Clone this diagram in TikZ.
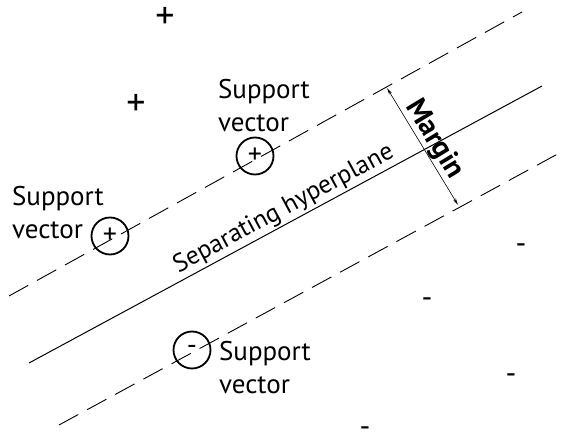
\documentclass[tikz,border=0pt]{standalone}
\usepackage{fontspec}
\setmainfont{PT Sans}
\usetikzlibrary{arrows.meta}

\tikzset{
  margin line/.style={dash pattern=on 22pt off 10pt, line width=0.9pt},
  sv/.style={draw,circle,line width=1.8pt,minimum size=37pt,inner sep=0pt,font=\fontsize{28}{28}\selectfont},
  svlabel/.style={align=left,inner sep=0pt,font=\fontsize{27}{33}\selectfont},
  pt/.style={inner sep=0pt,font=\fontsize{38}{38}\selectfont},
  nt/.style={inner sep=0pt,font=\fontsize{30}{30}\selectfont}
}

\begin{document}
\begin{tikzpicture}[x=1pt,y=-1pt]
\useasboundingbox (0,0) rectangle (565,443);

\coordinate (ta) at (9,296);
\coordinate (tb) at (522,12);
\coordinate (sa) at (29,363);
\coordinate (sb) at (542,86);
\coordinate (la) at (59,425);
\coordinate (lb) at (565,150);
\coordinate (m1) at (387,88);
\coordinate (m2) at (458,205);

\draw[margin line] (ta) -- (tb);
\draw[margin line] (la) -- (lb);
\draw[line width=1pt] (sa) -- (sb) node[pos=0.51,sloped,above,inner sep=2pt,font=\fontsize{25.5}{25.5}\selectfont] {Separating hyperplane};

\draw[<->,>={Stealth[length=7pt,width=3pt]},line width=0.6pt] (m1) -- (m2)
  node[midway,sloped,above,inner sep=0pt,font=\fontsize{29}{29}\selectfont\bfseries] {Margin};

% support vectors
\node[sv] (sv1) at (255,156) {+};
\node[sv] (sv2) at (110,236) {+};
\node[sv] (sv3) at (192,350) {-};

\node[svlabel] (l1) at (264,106) {Support\\vector};
\node[svlabel] (l2) at (58,213) {Support\\vector};
\node[svlabel] (l3) at (265,368) {Support\\vector};

% other points
\node[pt] (p1) at (165,18) {+};
\node[pt] (p2) at (136,105) {+};
\node[nt] (n1) at (521,249) {-};
\node[nt] (n2) at (427,303) {-};
\node[nt] (n3) at (511,379) {-};
\node[nt] (n4) at (365,432) {-};
\end{tikzpicture}
\end{document}
